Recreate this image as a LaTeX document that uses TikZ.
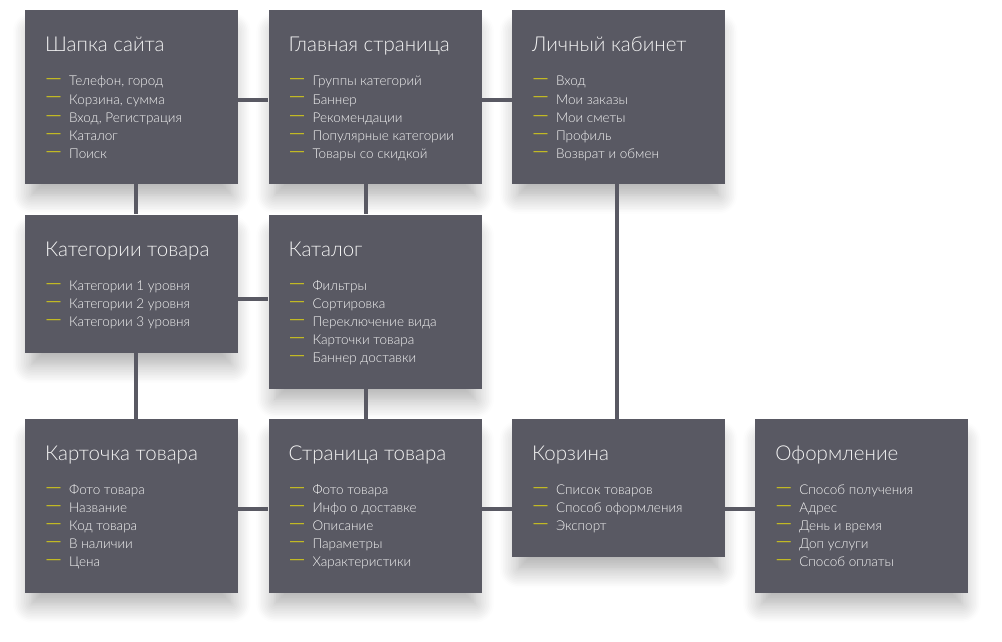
\documentclass[tikz,border=0pt]{standalone}
\usepackage{fontspec}
\setmainfont{Lato}[UprightFont=* Light]
\newfontfamily\dashfont{Lato}[UprightFont=* Light, Color=FFF200]
\usepackage{xcolor}
\usepackage{tikz}
\usetikzlibrary{positioning,calc,shadows.blur}

\definecolor{boxgray}{HTML}{595963}
\definecolor{lighttext}{HTML}{F4F4F4}

\newcommand{\itemdash}{\resizebox{17pt}{!}{\dashfont —}\hspace{7pt}}
\newcommand{\blocktext}[3]{%
  \node[headtext] (#1-title) at ($(#1.north west)+(20,-42)$) {#2};
  \foreach \txt [count=\k] in {#3} {
    \node[itemtext] (#1-\k) at ($(#1.north west)+(20,-58-18*\k)$) {\itemdash\txt};
  }}

\begin{document}
\begin{tikzpicture}[
    x=1pt, y=1pt,
    node distance=30pt,
    block/.style={fill=boxgray, minimum width=213pt, inner sep=0pt,
        blur shadow={shadow xshift=0pt, shadow yshift=-17pt, shadow scale=0.94,
            shadow blur radius=20pt, shadow blur steps=12, shadow opacity=34}},
    tallblock/.style={block, minimum height=174pt},
    shortblock/.style={block, minimum height=138pt},
    headtext/.style={anchor=base west, inner sep=0pt, text=lighttext,
        font=\fontsize{20.5}{25}\selectfont},
    itemtext/.style={anchor=base west, inner sep=0pt, text=lighttext,
        font=\fontsize{13.5}{18}\selectfont},
    link/.style={draw=boxgray, line width=4pt}
]
\useasboundingbox (0,0) rectangle (1002,-642);

% blocks
\node[tallblock, anchor=north west] (shapka) at (25,-10) {};
\node[tallblock, right=of shapka] (glavnaya) {};
\node[tallblock, right=of glavnaya] (kabinet) {};
\node[shortblock, below=of shapka] (kategorii) {};
\node[tallblock, below=of glavnaya] (katalog) {};
\node[tallblock, below=of katalog] (stranitsa) {};
\node[tallblock, left=of stranitsa] (kartochka) {};
\node[shortblock, right=of stranitsa.north east, anchor=north west] (korzina) {};
\node[tallblock, right=of korzina.north east, anchor=north west] (oformlenie) {};

% texts
\blocktext{shapka}{Шапка сайта}{{Телефон, город},{Корзина, сумма},{Вход, Регистрация},Каталог,Поиск}
\blocktext{glavnaya}{Главная страница}{Группы категорий,Баннер,Рекомендации,Популярные категории,Товары со скидкой}
\blocktext{kabinet}{Личный кабинет}{Вход,Мои заказы,Мои сметы,Профиль,Возврат и обмен}
\blocktext{kategorii}{Категории товара}{Категории 1 уровня,Категории 2 уровня,Категории 3 уровня}
\blocktext{katalog}{Каталог}{Фильтры,Сортировка,Переключение вида,Карточки товара,Баннер доставки}
\blocktext{kartochka}{Карточка товара}{Фото товара,Название,Код товара,В наличии,Цена}
\blocktext{stranitsa}{Страница товара}{Фото товара,Инфо о доставке,Описание,Параметры,Характеристики}
\blocktext{korzina}{Корзина}{Список товаров,Способ оформления,Экспорт}
\blocktext{oformlenie}{Оформление}{Способ получения,Адрес,День и время,Доп услуги,Способ оплаты}

% links
\draw[link] ($(shapka.north east)+(0,-90)$) -- ($(glavnaya.north west)+(0,-90)$);
\draw[link] ($(glavnaya.north east)+(0,-90)$) -- ($(kabinet.north west)+(0,-90)$);
\draw[link] ($(shapka.south west)+(111,0)$) -- ($(kategorii.north west)+(111,0)$);
\draw[link] ($(glavnaya.south west)+(98,0)$) -- ($(katalog.north west)+(98,0)$);
\draw[link] ($(kategorii.north east)+(0,-85)$) -- ($(katalog.north west)+(0,-85)$);
\draw[link] ($(kategorii.south west)+(111,0)$) -- ($(kartochka.north west)+(111,0)$);
\draw[link] ($(katalog.south west)+(98,0)$) -- ($(stranitsa.north west)+(98,0)$);
\draw[link] ($(kabinet.south west)+(105,0)$) -- ($(korzina.north west)+(105,0)$);
\draw[link] ($(kartochka.north east)+(0,-90)$) -- ($(stranitsa.north west)+(0,-90)$);
\draw[link] ($(stranitsa.north east)+(0,-90)$) -- ($(korzina.north west)+(0,-90)$);
\draw[link] ($(korzina.north east)+(0,-90)$) -- ($(oformlenie.north west)+(0,-90)$);
\end{tikzpicture}
\end{document}
